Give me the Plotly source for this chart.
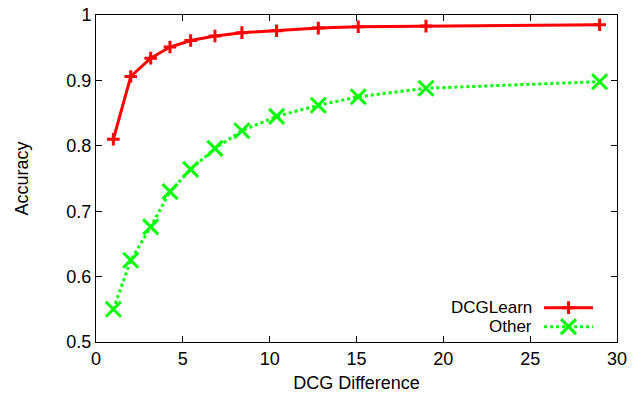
import plotly.graph_objects as go

# DCG difference between compared rankings
dcg_diff = [1.0, 2.0, 3.15, 4.26, 5.45, 6.85, 8.4, 10.4, 12.8, 15.1, 19.0, 29.0]

# Accuracy per method
acc_dcglearn = [0.810, 0.906, 0.934, 0.951, 0.961, 0.968, 0.973, 0.976, 0.980, 0.982, 0.983, 0.985]
acc_other = [0.550, 0.625, 0.676, 0.730, 0.764, 0.796, 0.823, 0.845, 0.862, 0.875, 0.888, 0.898]

x_ticks = [0, 5, 10, 15, 20, 25, 30]
y_ticks = [0.5, 0.6, 0.7, 0.8, 0.9, 1.0]
y_tick_text = ["0.5", "0.6", "0.7", "0.8", "0.9", "1"]

RED = "#ff0000"
GREEN = "#00ff00"
FONT = "Liberation Sans"
FS = 18

# name, values, colour, dash, marker symbol, marker size
series = [
    ("DCGLearn", acc_dcglearn, RED, "solid", "cross-thin", 9),
    ("Other", acc_other, GREEN, "dot", "x-thin", 15),
]

fig = go.Figure()
for name, ys, color, dash, symbol, msize in series:
    fig.add_trace(go.Scatter(
        x=dcg_diff, y=ys, mode="lines+markers", name=name,
        line=dict(color=color, width=3, dash=dash),
        marker=dict(symbol=symbol, size=msize, line=dict(color=color, width=3)),
        showlegend=False, cliponaxis=False,
    ))

# Key in the lower right: label on the left, line sample on the right
key_y = [0.105, 0.047]
for (name, ys, color, dash, symbol, msize), ky in zip(series, key_y):
    fig.add_trace(go.Scatter(
        x=[0.860, 0.954], y=[ky, ky], mode="lines", xaxis="x2", yaxis="y2",
        line=dict(color=color, width=3, dash=dash), showlegend=False, hoverinfo="skip",
    ))
    fig.add_trace(go.Scatter(
        x=[0.907], y=[ky], mode="markers", xaxis="x2", yaxis="y2",
        marker=dict(symbol=symbol, size=msize, line=dict(color=color, width=3)),
        showlegend=False, hoverinfo="skip",
    ))
    fig.add_annotation(
        x=0.840, y=ky, xref="x2", yref="y2", text=name, showarrow=False,
        xanchor="right", yanchor="middle", font=dict(family=FONT, size=17, color="black"),
    )

axis_common = dict(
    showline=True, linecolor="black", linewidth=1, mirror="allticks",
    ticks="inside", ticklen=6, tickcolor="black", showgrid=False, zeroline=False,
    tickfont=dict(family=FONT, size=FS, color="black"),
)

fig.update_layout(
    width=644, height=401,
    margin=dict(l=96, r=27, t=15, b=59, autoexpand=False),
    paper_bgcolor="white", plot_bgcolor="white",
    xaxis=dict(range=[0, 30], tickvals=x_ticks,
               title=dict(text="DCG Difference", font=dict(family=FONT, size=FS, color="black"), standoff=8),
               **axis_common),
    yaxis=dict(range=[0.5, 1.0], tickvals=y_ticks, ticktext=y_tick_text,
               title=dict(text="Accuracy", font=dict(family=FONT, size=FS, color="black"), standoff=33),
               **axis_common),
    xaxis2=dict(range=[0, 1], overlaying="x", visible=False, fixedrange=True),
    yaxis2=dict(range=[0, 1], overlaying="y", visible=False, fixedrange=True),
    font=dict(family=FONT, size=FS, color="black"),
)

fig.write_html("out.html")
